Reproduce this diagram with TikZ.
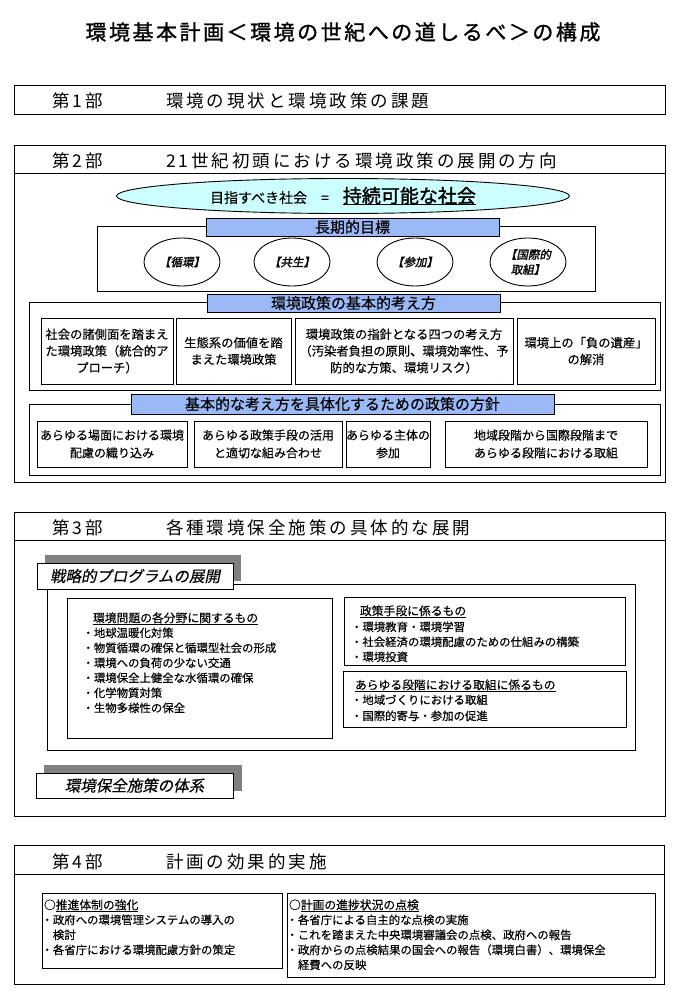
\documentclass[tikz,border=0pt]{standalone}
\usepackage{fontspec}
\setmainfont{Noto Sans CJK JP}[FakeBold=0.3]
\newfontfamily\jphead{Noto Sans CJK JP}[LetterSpace=17]
\newfontfamily\jptitle{Noto Sans CJK JP}[LetterSpace=12,FakeBold=1.2]
\newfontfamily\jpit{Noto Sans CJK JP}[FakeSlant=0.2,FakeBold=0.3]
\newfontfamily\jpbit{Noto Sans CJK JP}[FakeSlant=0.2,FakeBold=1.6]
\newfontfamily\jpb{Noto Sans CJK JP}[FakeBold=1.6]
\usetikzlibrary{shapes.geometric}
\definecolor{barblue}{RGB}{156,185,247}
\definecolor{goalcyan}{RGB}{204,255,255}
\definecolor{shadowgrey}{RGB}{128,128,128}
\newcommand\drbox[7]{\node[#6, minimum width={(#4)-(#2)}, minimum height={(#5)-(#3)}] (#1) at ({((#2)+(#4))/2},{((#3)+(#5))/2}) {#7};}
\newcommand\myul[1]{\setbox0\hbox{#1}\leavevmode\rlap{\rule[-2.2pt]{\wd0}{0.8pt}}\box0}
\begin{document}
\begin{tikzpicture}[x=1pt,y=-1pt,
  every node/.style={inner sep=0pt, outer sep=0pt},
  box/.style={draw, line width=0.9pt},
  wbox/.style={draw, line width=0.9pt, fill=white},
  bar/.style={draw, line width=0.9pt, fill=barblue, font=\fontsize{15}{18}\selectfont},
  shadowbox/.style={fill=shadowgrey},
  ctext/.style={align=center, font=\fontsize{12.3}{16.7}\selectfont},
  ptext/.style={align=center, font=\fontsize{12}{17.7}\selectfont},
  head/.style={anchor=west, font=\fontsize{17.5}{20}\jphead, text height=15pt, text depth=2pt},
  goalel/.style={ellipse, draw, line width=0.9pt, fill=goalcyan},
  el/.style={ellipse, draw, line width=0.9pt, minimum width=76pt, minimum height=48pt, align=center, font=\fontsize{11.5}{15}\jpbit},
  lst/.style={anchor=west, font=\fontsize{11.4}{15}\selectfont, text height=9.7pt, text depth=1.4pt},
  lhd/.style={anchor=west, font=\fontsize{11.8}{15}\selectfont, text height=10pt, text depth=1.4pt},
  itl/.style={wbox, font=\fontsize{15.5}{18}\jpit},
  sep/.style={line width=0.9pt}
]
\fill[white] (0,0) rectangle (676,1003);
\useasboundingbox (0,0) rectangle (676,1003);

% title
\node[font=\fontsize{21}{24}\jptitle] (title) at (343,32) {環境基本計画＜環境の世紀への道しるべ＞の構成};

% Part 1
\drbox{p1}{14}{85}{665}{114}{box}{}
\node[head] (p1num) at (52,101) {第1部};
\node[head] (p1title) at (166,101) {環境の現状と環境政策の課題};

% Part 2
\drbox{p2}{14}{145}{665}{482}{box}{}
\draw[sep] ([yshift=-28pt]p2.north west) -- ([yshift=-28pt]p2.north east);
\node[head] (p2num) at (52,161) {第2部};
\node[head] (p2title) at (166,161) {21世紀初頭における環境政策の展開の方向};

\node[goalel, minimum width=453pt, minimum height=35pt] (goal) at (343,196)
  {\fontsize{14}{17}\selectfont 目指すべき社会　=　{\fontsize{19}{22}\jpb\myul{持続可能な社会}}};

\drbox{ltg}{97}{226}{595}{291}{box}{}
\drbox{ltgbar}{206}{218}{499}{236}{bar}{長期的目標}
\node[el] (g1) at (182,262) {【循環】};
\node[el] (g2) at (292,262) {【共生】};
\node[el] (g3) at (415,262) {【参加】};
\node[el] (g4) at (528,262) {【国際的\\取組】};

\drbox{bc}{29}{302}{660}{390}{box}{}
\drbox{bcbar}{207}{294}{500}{312}{bar}{環境政策の基本的考え方}
\drbox{b1}{41}{318}{173}{384}{box,ctext}{社会の諸側面を踏まえ\\た環境政策（統合的ア\\プローチ）}
\drbox{b2}{176}{318}{291}{384}{box,ctext}{生態系の価値を踏\\まえた環境政策}
\drbox{b3}{295}{318}{513}{384}{box,ctext}{環境政策の指針となる四つの考え方\\（汚染者負担の原則、環境効率性、予\\防的な方策、環境リスク）}
\drbox{b4}{517}{318}{655}{384}{box,ctext}{環境上の「負の遺産」\\の解消}

\drbox{pd}{29}{404}{660}{475}{box}{}
\drbox{pdbar}{131}{394}{554}{414}{bar}{基本的な考え方を具体化するための政策の方針}
\drbox{c1}{37}{421}{187}{467}{box,ptext}{あらゆる場面における環境\\配慮の織り込み}
\drbox{c2}{194}{421}{342}{467}{box,ptext}{あらゆる政策手段の活用\\と適切な組み合わせ}
\drbox{c3}{346}{421}{430}{467}{box,ptext}{あらゆる主体の\\参加}
\drbox{c4}{445}{421}{647}{467}{box,ptext}{地域段階から国際段階まで\\あらゆる段階における取組}

% Part 3
\drbox{p3}{14}{512}{665}{816}{box}{}
\draw[sep] ([yshift=-28pt]p3.north west) -- ([yshift=-28pt]p3.north east);
\node[head] (p3num) at (52,528) {第3部};
\node[head] (p3title) at (166,528) {各種環境保全施策の具体的な展開};

\drbox{prog}{47}{584}{635}{750}{box}{}
\drbox{sh1}{45}{555}{241}{581}{shadowbox}{}
\drbox{lab1}{37}{563}{233}{589}{itl}{戦略的プログラムの展開}

\drbox{fl}{67}{598}{332}{738}{box}{}
\node[lhd] (flh) at (93,618) {\myul{環境問題の各分野に関するもの}};
\node[lst] (fl1) at (82.5,633) {・地球温暖化対策};
\node[lst] (fl2) at (82.5,648) {・物質循環の確保と循環型社会の形成};
\node[lst] (fl3) at (82.5,663) {・環境への負荷の少ない交通};
\node[lst] (fl4) at (82.5,678) {・環境保全上健全な水循環の確保};
\node[lst] (fl5) at (82.5,693) {・化学物質対策};
\node[lst] (fl6) at (82.5,708) {・生物多様性の保全};

\drbox{ru}{344}{597}{625}{665}{box}{}
\node[lhd] (ruh) at (360,611) {\myul{政策手段に係るもの}};
\node[lst] (ru1) at (351,627) {・環境教育・環境学習};
\node[lst] (ru2) at (351,642) {・社会経済の環境配慮のための仕組みの構築};
\node[lst] (ru3) at (351,657) {・環境投資};

\drbox{rl}{343}{671}{626}{727}{box}{}
\node[lhd] (rlh) at (355,685) {\myul{あらゆる段階における取組に係るもの}};
\node[lst] (rl1) at (351,700) {・地域づくりにおける取組};
\node[lst] (rl2) at (351,716) {・国際的寄与・参加の促進};

\drbox{sh2}{44}{765}{242}{791}{shadowbox}{}
\drbox{lab2}{36}{773}{233}{798}{itl}{環境保全施策の体系}

% Part 4
\drbox{p4}{14}{845}{664}{984}{box}{}
\draw[sep] ([yshift=-29pt]p4.north west) -- ([yshift=-29pt]p4.north east);
\node[head] (p4num) at (52,862) {第4部};
\node[head] (p4title) at (166,862) {計画の効果的実施};

\drbox{q1}{42}{893}{282}{968}{box}{}
\node[lhd] (q1h) at (44,905) {○\myul{推進体制の強化}};
\node[lst] (q11) at (41.5,920) {・政府への環境管理システムの導入の};
\node[lst] (q12) at (41.5,935) {　検討};
\node[lst] (q13) at (41.5,950) {・各省庁における環境配慮方針の策定};

\drbox{q2}{287}{893}{655}{977}{box}{}
\node[lhd] (q2h) at (289,905) {○\myul{計画の進捗状況の点検}};
\node[lst] (q21) at (286.5,920) {・各省庁による自主的な点検の実施};
\node[lst] (q22) at (286.5,935) {・これを踏まえた中央環境審議会の点検、政府への報告};
\node[lst] (q23) at (286.5,950) {・政府からの点検結果の国会への報告（環境白書）、環境保全};
\node[lst] (q24) at (286.5,965) {　経費への反映};
\end{tikzpicture}
\end{document}
